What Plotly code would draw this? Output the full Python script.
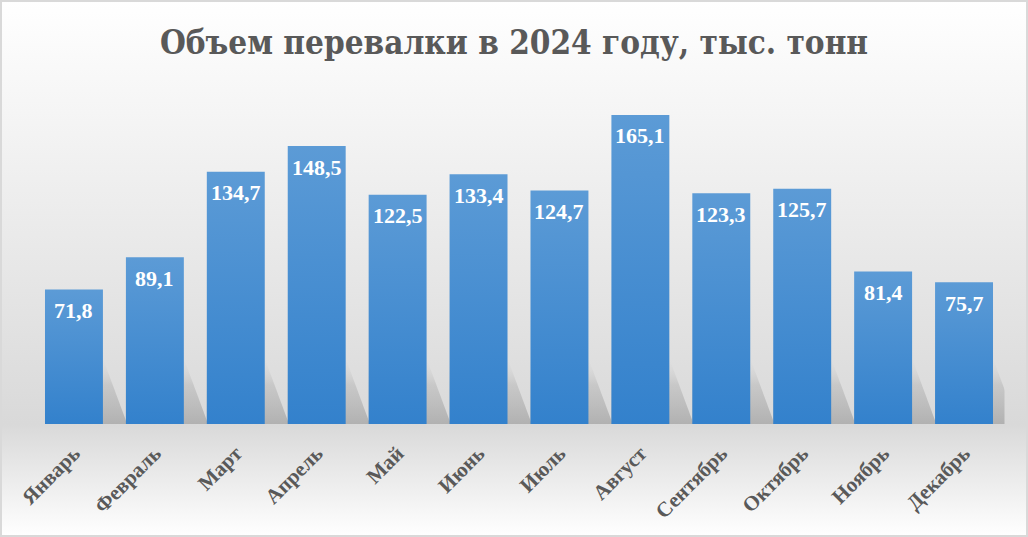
import plotly.graph_objects as go

months = ["Январь", "Февраль", "Март", "Апрель", "Май", "Июнь",
          "Июль", "Август", "Сентябрь", "Октябрь", "Ноябрь", "Декабрь"]
values = [71.8, 89.1, 134.7, 148.5, 122.5, 133.4, 124.7, 165.1, 123.3, 125.7, 81.4, 75.7]
title_text = "Объем перевалки в 2024 году, тыс. тонн"

W, H = 1028, 537
BAR_HALF = 0.358
SHADOW_DX = 0.3
SHADOW_H = 35

fig = go.Figure()

# background gradient (full paper)
fig.add_trace(go.Scatter(
    x=[0, 1, 1, 0, 0], y=[0, 0, 1, 1, 0], xaxis="x", yaxis="y",
    mode="lines", line=dict(width=0), fill="toself",
    fillgradient=dict(type="vertical", start=0, stop=1,
                      colorscale=[[0, "#ffffff"], [0.21, "#d9d9d9"], [1, "#ffffff"]]),
    hoverinfo="skip", showlegend=False))

# shadows
for i, v in enumerate(values):
    xs = [i - BAR_HALF, i + BAR_HALF + SHADOW_DX, i + BAR_HALF, i - BAR_HALF, i - BAR_HALF]
    ys = [0, 0, SHADOW_H, SHADOW_H, 0]
    fig.add_trace(go.Scatter(
        x=xs, y=ys, xaxis="x2", yaxis="y2", mode="lines", line=dict(width=0),
        fill="toself",
        fillgradient=dict(type="vertical",
                          colorscale=[[0, "rgba(160,160,160,0.7)"], [0.6, "rgba(175,175,175,0.45)"],
                                      [1, "rgba(210,210,210,0)"]]),
        hoverinfo="skip", showlegend=False))

# bars
for i, v in enumerate(values):
    xs = [i - BAR_HALF, i + BAR_HALF, i + BAR_HALF, i - BAR_HALF, i - BAR_HALF]
    ys = [0, 0, v, v, 0]
    fig.add_trace(go.Scatter(
        x=xs, y=ys, xaxis="x2", yaxis="y2", mode="lines", line=dict(width=0),
        fill="toself",
        fillgradient=dict(type="vertical",
                          colorscale=[[0, "#3381cc"], [1, "#5c9bd6"]]),
        hoverinfo="skip", showlegend=False, name=months[i]))

annotations = []
for i, v in enumerate(values):
    annotations.append(dict(
        x=i, y=v, xref="x2", yref="y2", text=f"{v:.1f}".replace(".", ","),
        showarrow=False, yanchor="middle", yshift=-21,
        font=dict(family="Liberation Serif", size=22, color="#ffffff", weight="bold")))

fig.update_layout(
    width=W, height=H,
    margin=dict(l=0, r=0, t=0, b=0),
    paper_bgcolor="#ffffff", plot_bgcolor="rgba(0,0,0,0)",
    title=dict(text=title_text, x=0.5, xanchor="center", y=1 - 42 / H, yanchor="middle",
               font=dict(family="DejaVu Serif Condensed", size=33, color="#595959", weight="bold")),
    xaxis=dict(domain=[0, 1], range=[0, 1], visible=False, fixedrange=True),
    yaxis=dict(domain=[0, 1], range=[0, 1], visible=False, fixedrange=True),
    xaxis2=dict(domain=[33.5 / W, 1004.5 / W], range=[-0.5, 11.5], anchor="y2",
                tickmode="array", tickvals=list(range(len(months))), ticktext=months,
                tickangle=-45, showgrid=False, zeroline=False, showline=False,
                ticks="", automargin=False, ticklabelstandoff=12,
                tickfont=dict(family="Liberation Serif", size=21, color="#595959", weight="bold")),
    yaxis2=dict(domain=[113 / H, 1 - 60 / H], range=[0, 364 / 1.872], anchor="x2",
                visible=False, automargin=False),
    annotations=annotations,
    shapes=[dict(type="rect", xref="paper", yref="paper", x0=0, y0=0, x1=1, y1=1,
                 line=dict(color="#d9d9d9", width=4), fillcolor="rgba(0,0,0,0)")],
    showlegend=False,
)

fig.write_html("out.html", config={"displayModeBar": False},
               post_script="document.body.style.margin='0';")
